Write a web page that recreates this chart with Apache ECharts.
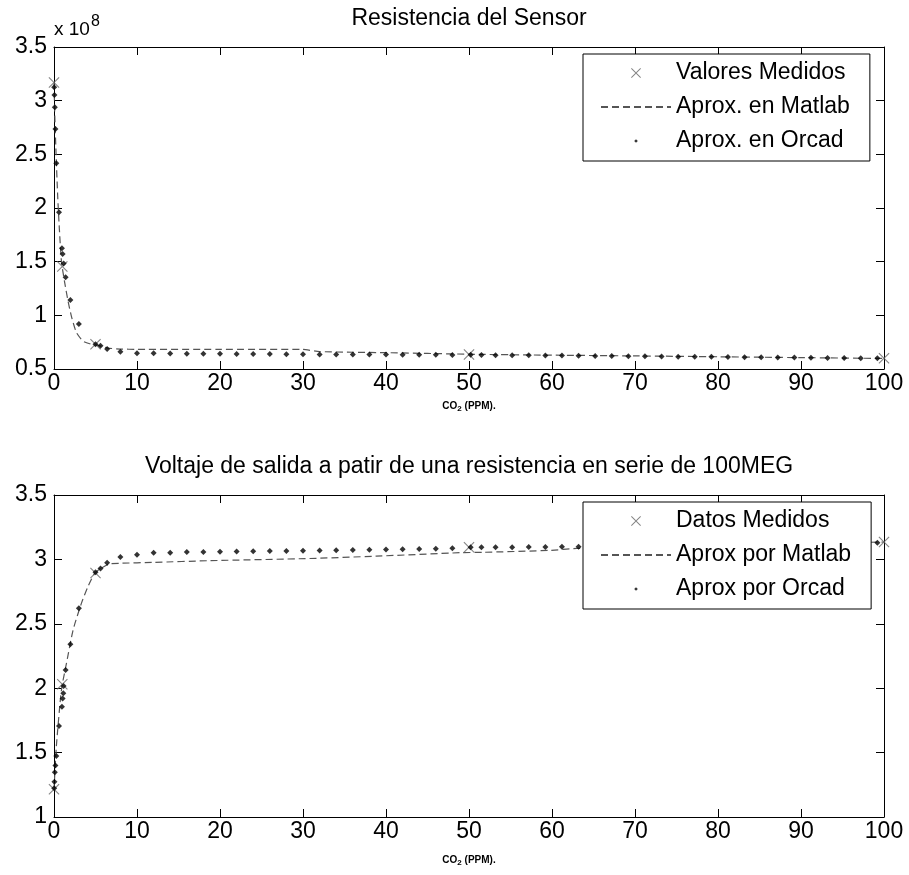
<!DOCTYPE html>
<html><head><meta charset="utf-8">
<script src="https://cdn.jsdelivr.net/npm/echarts@6/dist/echarts.min.js"></script>
<style>html,body{margin:0;padding:0;background:#fff}#c{width:909px;height:875px}</style>
</head><body><div id="c"></div>
<script>
// ---------- Data (top: sensor resistance, ohms) ----------
const resMeasX = [0, 1, 5, 50, 100];
const resMeasY = [3.17e8, 1.455e8, 0.73e8, 0.636e8, 0.600e8];

const resMatlabX = [0, 0.1, 0.25, 0.45, 0.65, 0.9, 1.3, 1.7, 2.1, 2.7, 3.5, 4.3, 5.1, 6.5, 8, 10, 20, 30, 32, 40, 50, 57, 70, 80, 90, 100];
const resMatlabY = [3.17e8, 2.85e8, 2.5e8, 2.1e8, 1.8e8, 1.5e8, 1.3e8, 1.13e8, 0.99e8, 0.84e8, 0.76e8, 0.735e8, 0.725e8, 0.695e8, 0.686e8, 0.683e8, 0.683e8, 0.682e8, 0.662e8, 0.652e8, 0.638e8, 0.631e8, 0.622e8, 0.614e8, 0.606e8, 0.598e8];

const resOrcadX = [0.02, 0.05, 0.1, 0.17, 0.28, 0.6, 0.96, 1.04, 1.16, 1.4, 1.97, 3.0, 5.0, 5.6, 6.4, 8, 10, 12, 14, 16, 18, 20, 22, 24, 26, 28, 30, 32, 34, 36, 38, 40, 42, 44, 46, 48, 50.2, 51.5, 53.2, 55.2, 57.2, 59.2, 61.2, 63.2, 65.2, 67.2, 69.2, 71.2, 73.2, 75.2, 77.2, 79.2, 81.2, 83.2, 85.2, 87.2, 89.2, 91.2, 93.2, 95.2, 97.2, 99.2];
const resOrcadY = [3.124e8, 3.053e8, 2.938e8, 2.736e8, 2.416e8, 1.96e8, 1.624e8, 1.571e8, 1.484e8, 1.354e8, 1.143e8, 0.919e8, 0.73e8, 0.717e8, 0.686e8, 0.661e8, 0.646e8, 0.646e8, 0.645e8, 0.643e8, 0.642e8, 0.641e8, 0.640e8, 0.640e8, 0.639e8, 0.638e8, 0.637e8, 0.636e8, 0.636e8, 0.635e8, 0.634e8, 0.634e8, 0.633e8, 0.633e8, 0.632e8, 0.631e8, 0.633e8, 0.630e8, 0.629e8, 0.628e8, 0.627e8, 0.626e8, 0.625e8, 0.623e8, 0.622e8, 0.621e8, 0.619e8, 0.618e8, 0.617e8, 0.615e8, 0.614e8, 0.613e8, 0.612e8, 0.610e8, 0.609e8, 0.607e8, 0.606e8, 0.605e8, 0.603e8, 0.602e8, 0.601e8, 0.599e8];

// ---------- Data (bottom: output voltage, V) ----------
const voltMeasX = [0, 1, 5, 50, 100];
const voltMeasY = [1.215, 2.03, 2.895, 3.095, 3.135];

const voltMatlabX = [0, 0.28, 0.8, 1.0, 1.5, 2.3, 3.3, 4.1, 5.0, 6.7, 8, 12, 18.8, 30.8, 38.8, 48.9, 51.7, 59.7, 63, 80, 100];
const voltMatlabY = [1.21, 1.546, 1.934, 2.03, 2.193, 2.452, 2.659, 2.79, 2.90, 2.965, 2.97, 2.977, 2.99, 3.007, 3.025, 3.052, 3.055, 3.07, 3.085, 3.11, 3.135];

const voltOrcadX = [0.02, 0.05, 0.1, 0.17, 0.28, 0.6, 0.96, 1.04, 1.12, 1.16, 1.4, 1.97, 3.0, 5.0, 5.6, 6.4, 8, 10, 12, 14, 16, 18, 20, 22, 24, 26, 28, 30, 32, 34, 36, 38, 40, 42, 44, 46, 48, 50.2, 51.5, 53.2, 55.2, 57.2, 59.2, 61.2, 63.2, 65.2, 67.2, 69.2, 71.2, 73.2, 75.2, 77.2, 79.2, 81.2, 83.2, 85.2, 87.2, 89.2, 91.2, 93.2, 95.2, 97.2, 99.2];
const voltOrcadY = [1.223, 1.274, 1.347, 1.40, 1.474, 1.707, 1.856, 1.921, 1.96, 2.017, 2.141, 2.341, 2.62, 2.90, 2.93, 2.974, 3.019, 3.037, 3.052, 3.052, 3.057, 3.058, 3.060, 3.062, 3.063, 3.065, 3.066, 3.068, 3.069, 3.071, 3.073, 3.074, 3.076, 3.078, 3.080, 3.082, 3.086, 3.094, 3.095, 3.094, 3.095, 3.096, 3.097, 3.098, 3.099, 3.100, 3.102, 3.104, 3.106, 3.108, 3.110, 3.112, 3.114, 3.116, 3.118, 3.120, 3.122, 3.124, 3.126, 3.127, 3.128, 3.129, 3.130];

const titles = ['Resistencia del Sensor', 'Voltaje de salida a patir de una resistencia en serie de 100MEG'];
const legendTop = ['Valores Medidos', 'Aprox. en Matlab', 'Aprox. en Orcad'];
const legendBot = ['Datos Medidos', 'Aprox por Matlab', 'Aprox por Orcad'];

// ---------- Styles ----------
const FONT = 'Liberation Sans, Arial, sans-serif';
const XPATH = 'path://M0,7L7,0L50,43L93,0L100,7L57,50L100,93L93,100L50,57L7,100L0,93L43,50Z';
const DOT_LEG = 'path://M0,0M10,10M5,3.2L6.8,5L5,6.8L3.2,5Z';
const zip = (xs, ys) => xs.map((x, i) => [x, ys[i]]);
const NONE = 'rgba(0,0,0,0)';

function xAxis(gi, pos, name, gap) {
  const main = pos === 'bottom';
  return {
    type: 'value', gridIndex: gi, position: pos, min: 0, max: 100, interval: 10,
    axisLine: { show: true, onZero: false, lineStyle: { color: '#000', width: 1 } },
    axisTick: { show: true, inside: true, length: 8, lineStyle: { color: '#000' } },
    axisLabel: { show: main, margin: 3, fontFamily: FONT, fontSize: 23, color: '#000' },
    splitLine: { show: false },
    name: main ? name : '', nameLocation: 'middle', nameGap: gap,
    nameTextStyle: { fontFamily: FONT, color: '#000',
      rich: { a: { fontSize: 10, fontWeight: 'bold', fontFamily: FONT, color: '#000', lineHeight: 14 },
              b: { fontSize: 8, fontWeight: 'bold', fontFamily: FONT, color: '#000', lineHeight: 14, padding: [6, 0, 0, 0] } } }
  };
}
function yAxis(gi, pos, min, max, interval, fmt) {
  const main = pos === 'left';
  return {
    type: 'value', gridIndex: gi, position: pos, min: min, max: max, interval: interval,
    axisLine: { show: true, onZero: false, lineStyle: { color: '#000', width: 1 } },
    axisTick: { show: true, inside: true, length: 8, lineStyle: { color: '#000' } },
    axisLabel: { show: main, margin: 7, fontFamily: FONT, fontSize: 23, color: '#000', formatter: fmt },
    splitLine: { show: false }
  };
}
const xName = '{a|CO}{b|2}{a| (PPM).}';

function legend(names, top) {
  return {
    orient: 'vertical', left: 583, top: top, z: 20,
    padding: [7, 20, 8, 17], itemGap: 10, itemWidth: 70, itemHeight: 10,
    borderColor: '#000', borderWidth: 1, borderRadius: 0, backgroundColor: '#fff',
    textStyle: { fontFamily: FONT, fontSize: 23, color: '#000', lineHeight: 24 },
    selectedMode: false,
    data: [
      { name: names[0], icon: XPATH, itemStyle: { color: '#666' } },
      { name: names[1], itemStyle: { color: NONE, borderColor: NONE, borderWidth: 0 } },
      { name: names[2], icon: DOT_LEG, itemStyle: { color: '#000' } }
    ]
  };
}

function seriesSet(names, xi, yi, mx, my, lx, ly, ox, oy) {
  return [
    { name: names[0], type: 'scatter', xAxisIndex: xi, yAxisIndex: yi, data: zip(mx, my),
      symbol: XPATH, symbolSize: 11, itemStyle: { color: '#666' }, z: 2 },
    { name: names[1], type: 'line', xAxisIndex: xi, yAxisIndex: yi, data: zip(lx, ly),
      symbol: 'none', smooth: 0.2, lineStyle: { color: '#555', width: 1.2, type: [7, 4] },
      itemStyle: { color: NONE, borderColor: NONE, borderWidth: 0 }, z: 2 },
    { name: names[2], type: 'scatter', xAxisIndex: xi, yAxisIndex: yi, data: zip(ox, oy),
      symbol: 'diamond', symbolSize: 6, itemStyle: { color: '#000' }, z: 3 }
  ];
}

const fmtRes = v => String(+(v / 1e8).toFixed(1));
const fmtV = v => String(+v.toFixed(1));

const chart = echarts.init(document.getElementById('c'), null, { renderer: 'canvas' });
chart.setOption({
  animation: false,
  backgroundColor: '#fff',
  grid: [
    { left: 54, top: 47, width: 830, height: 322 },
    { left: 54, top: 495, width: 830, height: 322 }
  ],
  xAxis: [xAxis(0, 'bottom', xName, 30), xAxis(0, 'top'), xAxis(1, 'bottom', xName, 36), xAxis(1, 'top')],
  yAxis: [
    yAxis(0, 'left', 0.5e8, 3.5e8, 0.5e8, fmtRes), yAxis(0, 'right', 0.5e8, 3.5e8, 0.5e8),
    yAxis(1, 'left', 1, 3.5, 0.5, fmtV), yAxis(1, 'right', 1, 3.5, 0.5)
  ],
  legend: [legend(legendTop, 54), legend(legendBot, 502)],
  graphic: [
    { type: 'text', x: 469, y: 19, style: { text: titles[0], font: '23px ' + FONT, fill: '#000', align: 'center', verticalAlign: 'middle' } },
    { type: 'text', x: 469, y: 467, style: { text: titles[1], font: '23px ' + FONT, fill: '#000', align: 'center', verticalAlign: 'middle' } },
    { type: 'text', x: 54, y: 39, style: { text: 'x 10', font: '19px ' + FONT, fill: '#000', align: 'left', verticalAlign: 'bottom' } },
    { type: 'text', x: 91, y: 14, style: { text: '8', font: '16px ' + FONT, fill: '#000', align: 'left', verticalAlign: 'top' } }
  ],
  series: [].concat(
    seriesSet(legendTop, 0, 0, resMeasX, resMeasY, resMatlabX, resMatlabY, resOrcadX, resOrcadY),
    seriesSet(legendBot, 2, 2, voltMeasX, voltMeasY, voltMatlabX, voltMatlabY, voltOrcadX, voltOrcadY)
  )
});
</script></body></html>
